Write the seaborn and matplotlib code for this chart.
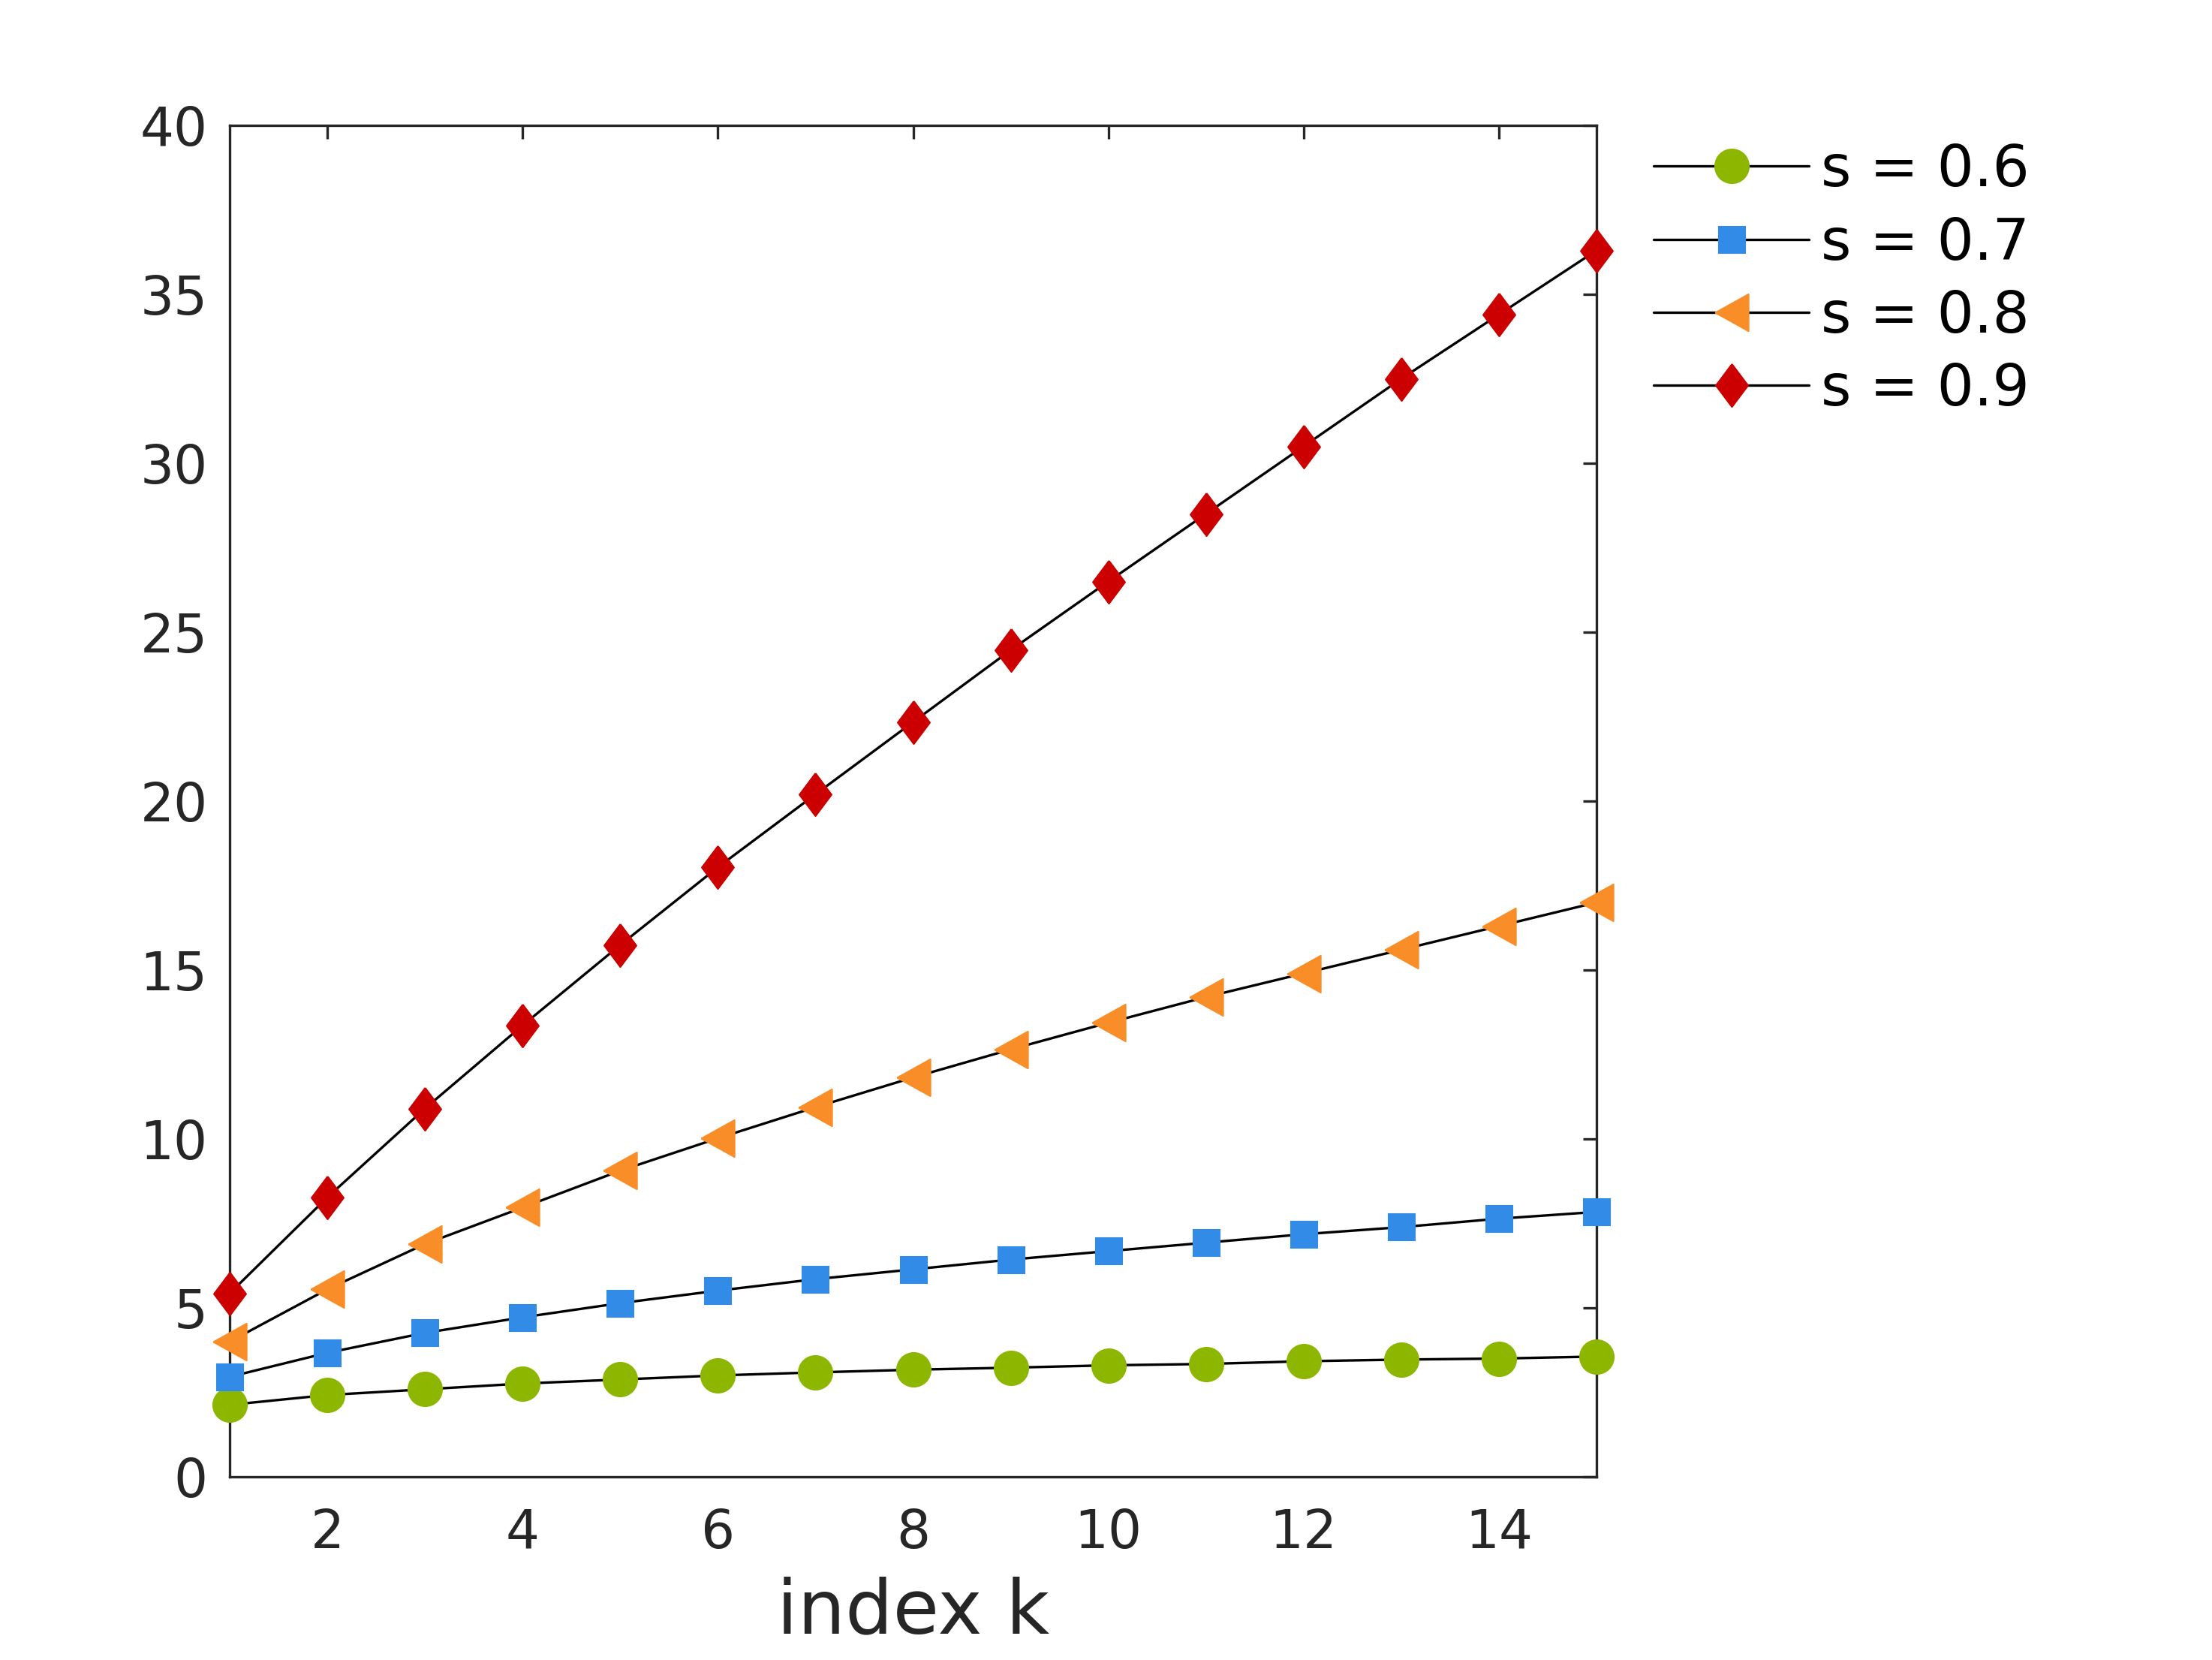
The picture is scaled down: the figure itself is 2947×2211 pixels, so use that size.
import numpy as np
import pandas as pd
import seaborn as sb
import matplotlib
matplotlib.use("Agg")
import matplotlib.pyplot as plt

# values
k = list(range(1, 16))
s06 = [2.13, 2.42, 2.59, 2.76, 2.88, 3.00, 3.09, 3.17, 3.23, 3.30, 3.34, 3.42, 3.47, 3.50, 3.56]
s07 = [2.96, 3.67, 4.26, 4.72, 5.14, 5.51, 5.85, 6.14, 6.43, 6.68, 6.93, 7.18, 7.39, 7.64, 7.84]
s08 = [4.00, 5.55, 6.89, 7.97, 9.06, 10.02, 10.94, 11.82, 12.65, 13.44, 14.20, 14.90, 15.60, 16.30, 17.00]
s09 = [5.43, 8.27, 10.90, 13.36, 15.74, 18.04, 20.20, 22.34, 24.47, 26.50, 28.50, 30.50, 32.50, 34.40, 36.30]
labels = ["s = 0.6", "s = 0.7", "s = 0.8", "s = 0.9"]
x_ticks = [2, 4, 6, 8, 10, 12, 14]
y_ticks = [0, 5, 10, 15, 20, 25, 30, 35, 40]

sb.set_style("white")
plt.rcParams['font.family'] = ['DejaVu Sans']

ink = "#262626"
# marker styles (matlab-ish)
diamond = [(0, 1), (0.75, 0), (0, -1), (-0.75, 0), (0, 1)]
tri_left = [(-0.9, 0), (0.9, 1), (0.9, -1), (-0.9, 0)]
styles = [
    dict(marker="o", ms=10.8, c="#8DB600"),
    dict(marker="s", ms=8.4, c="#328BE6"),
    dict(marker=tri_left, ms=11.8, c="#F98E28"),
    dict(marker=diamond, ms=13.7, c="#CC0000"),
]

fig = plt.figure(figsize=(2947 / 300, 2211 / 300), dpi=300)
ax = fig.add_axes([306 / 2947, 1 - 1967 / 2211, (2127 - 306) / 2947, (1967 - 167) / 2211])

for vals, lab, st in zip([s06, s07, s08, s09], labels, styles):
    df = pd.DataFrame({"k": k, "v": vals})
    sb.lineplot(data=df, x="k", y="v", ax=ax, color="black", linewidth=0.8,
                marker=st["marker"], markersize=st["ms"],
                markerfacecolor=st["c"], markeredgecolor=st["c"],
                markeredgewidth=0.5, label=lab, clip_on=False)

ax.set_xlim(1, 15)
ax.set_ylim(0, 40)
ax.set_xticks(x_ticks)
ax.set_yticks(y_ticks)
ax.set_ylabel("")
ax.set_xlabel("index k", fontsize=24, color=ink, labelpad=5.5)

for sp in ax.spines.values():
    sp.set_visible(True)
    sp.set_color(ink)
    sp.set_linewidth(0.8)
    sp.set_zorder(1)
ax.tick_params(axis="both", direction="in", length=4.4, width=0.8, color=ink,
               labelcolor=ink, labelsize=17, top=True, right=True)
ax.tick_params(axis="x", pad=9.8)
ax.tick_params(axis="y", pad=7.0)

leg = ax.legend(loc="upper left", bbox_to_anchor=(1.042, 0.987), frameon=False,
                fontsize=18.6, handlelength=2.67, handletextpad=0.2,
                labelspacing=0.30, borderpad=0, borderaxespad=0)
for t in leg.get_texts():
    t.set_color("black")

fig.savefig("out.png", dpi=300)
